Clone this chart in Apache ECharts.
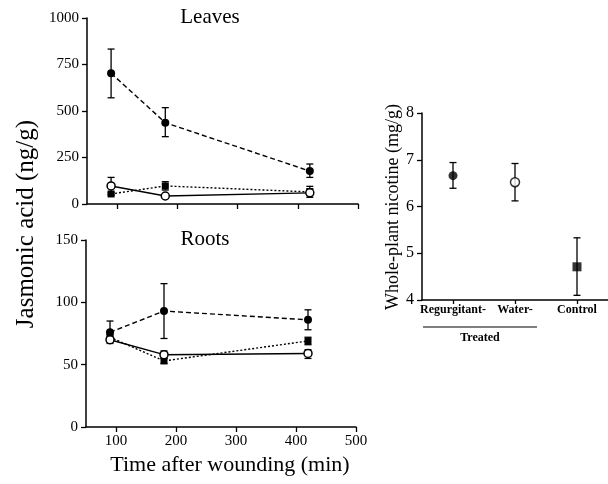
<!DOCTYPE html>
<html><head><meta charset="utf-8">
<script src="https://cdn.jsdelivr.net/npm/echarts@6/dist/echarts.min.js"></script>
<style>html,body{margin:0;padding:0;background:#fff}#c{width:608px;height:484px}</style>
</head><body><div id="c"></div>
<script>
const times = [90, 180, 420];
const timeTicks = [100, 200, 300, 400, 500];

const leavesRegurgitant = [703, 437, 177];
const leavesRegurgitantLow = [571, 362, 143];
const leavesRegurgitantHigh = [833, 518, 215];
const leavesWater = [97, 43, 60];
const leavesWaterLow = [52, 38, 36];
const leavesWaterHigh = [143, 48, 95];
const leavesControl = [54, 97, 65];
const leavesControlLow = [46, 75, 50];
const leavesControlHigh = [62, 120, 82];

const rootsRegurgitant = [76, 93, 86];
const rootsRegurgitantLow = [67, 71, 78];
const rootsRegurgitantHigh = [85, 115, 94];
const rootsWater = [70, 58, 59];
const rootsWaterLow = [68, 55, 55];
const rootsWaterHigh = [72, 61, 62];
const rootsControl = [72, 53, 69];
const rootsControlLow = [70, 51, 66];
const rootsControlHigh = [74, 55, 72];

const nicotineCategories = ['Regurgitant-', 'Water-', 'Control'];
const nicotine = [6.66, 6.52, 4.71];
const nicotineLow = [6.39, 6.12, 4.10];
const nicotineHigh = [6.94, 6.92, 5.33];

const FONT = 'Liberation Serif';

function pairs(xs, ys) { return xs.map((x, i) => [x, ys[i]]); }
function errData(xs, lo, hi) { return xs.map((x, i) => [x, lo[i], hi[i]]); }

function errItem(params, api) {
  const x = api.value(0), lo = api.value(1), hi = api.value(2);
  const p1 = api.coord([x, hi]), p2 = api.coord([x, lo]);
  const w = 3.5;
  const st = { stroke: '#000', lineWidth: 1.3 };
  return { type: 'group', children: [
    { type: 'line', shape: { x1: p1[0], y1: p1[1], x2: p2[0], y2: p2[1] }, style: st },
    { type: 'line', shape: { x1: p1[0] - w, y1: p1[1], x2: p1[0] + w, y2: p1[1] }, style: st },
    { type: 'line', shape: { x1: p2[0] - w, y1: p2[1], x2: p2[0] + w, y2: p2[1] }, style: st }
  ]};
}

const lineStyles = {
  reg: { color: '#000', width: 1.4, type: [5, 3] },
  water: { color: '#000', width: 1.4, type: 'solid' },
  ctrl: { color: '#000', width: 1.4, type: [2, 2] }
};
const symStyles = {
  reg: { symbol: 'circle', symbolSize: 8, itemStyle: { color: '#000' } },
  water: { symbol: 'circle', symbolSize: 8, itemStyle: { color: '#fff', borderColor: '#000', borderWidth: 1.5 } },
  ctrl: { symbol: 'rect', symbolSize: 7, itemStyle: { color: '#000' } }
};

function lineSeries(idx, kind, ys, z) {
  return Object.assign({
    type: 'line', xAxisIndex: idx, yAxisIndex: idx, data: pairs(times, ys),
    lineStyle: lineStyles[kind], z: z, animation: false, silent: true
  }, symStyles[kind]);
}
function errSeries(idx, xs, lo, hi) {
  return { type: 'custom', xAxisIndex: idx, yAxisIndex: idx, renderItem: errItem,
    data: errData(xs, lo, hi), z: 1, animation: false, silent: true };
}

const axisLine = { show: true, lineStyle: { color: '#000', width: 1.5 } };
const labelStyle = { color: '#000', fontFamily: FONT, fontSize: 15 };
const plain = v => String(v);

function timeAxis(idx, showLabels) {
  return {
    type: 'value', gridIndex: idx, min: 50, max: 500,
    axisLine: axisLine,
    axisTick: { show: true, length: 5, lineStyle: { color: '#000', width: 1.3 }, customValues: timeTicks },
    axisLabel: Object.assign({ show: showLabels, margin: 7, customValues: timeTicks, formatter: plain }, labelStyle),
    splitLine: { show: false }
  };
}
function valAxis(idx, min, max, interval) {
  return {
    type: 'value', gridIndex: idx, min: min, max: max, interval: interval,
    axisLine: axisLine,
    axisTick: { show: true, length: 5, lineStyle: { color: '#000', width: 1.3 } },
    axisLabel: Object.assign({ margin: 8, formatter: plain }, labelStyle),
    splitLine: { show: false }
  };
}

const chart = echarts.init(document.getElementById('c'), null, { renderer: 'canvas' });
chart.setOption({
  backgroundColor: '#fff',
  animation: false,
  grid: [
    { left: 87, top: 18, width: 271, height: 186 },
    { left: 86, top: 240, width: 270, height: 187 },
    { left: 422, top: 113, width: 186, height: 187 }
  ],
  xAxis: [
    timeAxis(0, false),
    timeAxis(1, true),
    {
      type: 'category', gridIndex: 2, data: nicotineCategories, boundaryGap: true,
      axisLine: axisLine,
      axisTick: { show: true, alignWithLabel: true, length: 4, lineStyle: { color: '#000', width: 1.3 } },
      axisLabel: { color: '#000', fontFamily: FONT, fontSize: 12, fontWeight: 'bold', margin: 4, interval: 0, hideOverlap: false },
      splitLine: { show: false }
    }
  ],
  yAxis: [
    valAxis(0, 0, 1000, 250),
    valAxis(1, 0, 150, 50),
    Object.assign(valAxis(2, 4, 8, 1), { axisLabel: { color: '#000', fontFamily: FONT, fontSize: 16, margin: 8, formatter: plain } })
  ],
  series: [
    errSeries(0, times, leavesRegurgitantLow, leavesRegurgitantHigh),
    errSeries(0, times, leavesWaterLow, leavesWaterHigh),
    errSeries(0, times, leavesControlLow, leavesControlHigh),
    lineSeries(0, 'ctrl', leavesControl, 3),
    lineSeries(0, 'water', leavesWater, 4),
    lineSeries(0, 'reg', leavesRegurgitant, 5),
    errSeries(1, times, rootsRegurgitantLow, rootsRegurgitantHigh),
    errSeries(1, times, rootsWaterLow, rootsWaterHigh),
    errSeries(1, times, rootsControlLow, rootsControlHigh),
    lineSeries(1, 'ctrl', rootsControl, 3),
    lineSeries(1, 'water', rootsWater, 4),
    lineSeries(1, 'reg', rootsRegurgitant, 5),
    errSeries(2, [0, 1, 2], nicotineLow, nicotineHigh),
    {
      type: 'scatter', xAxisIndex: 2, yAxisIndex: 2, z: 5, animation: false, silent: true,
      data: [
        { value: [0, nicotine[0]], symbol: 'circle', symbolSize: 9, itemStyle: { color: '#000' } },
        { value: [1, nicotine[1]], symbol: 'circle', symbolSize: 9, itemStyle: { color: '#fff', borderColor: '#000', borderWidth: 1.5 } },
        { value: [2, nicotine[2]], symbol: 'rect', symbolSize: 9, itemStyle: { color: '#000' } }
      ]
    }
  ],
  graphic: [
    { type: 'text', x: 210, y: 17, style: { text: 'Leaves', fill: '#000', font: '21px "Liberation Serif"', align: 'center', verticalAlign: 'middle' } },
    { type: 'text', x: 205, y: 239, style: { text: 'Roots', fill: '#000', font: '21px "Liberation Serif"', align: 'center', verticalAlign: 'middle' } },
    { type: 'text', x: 26, y: 224, rotation: Math.PI / 2, style: { text: 'Jasmonic acid (ng/g)', fill: '#000', font: '25px "Liberation Serif"', align: 'center', verticalAlign: 'middle' } },
    { type: 'text', x: 230, y: 465, style: { text: 'Time after wounding (min)', fill: '#000', font: '22px "Liberation Serif"', align: 'center', verticalAlign: 'middle' } },
    { type: 'text', x: 393, y: 207, rotation: Math.PI / 2, style: { text: 'Whole-plant nicotine (mg/g)', fill: '#000', font: '18px "Liberation Serif"', align: 'center', verticalAlign: 'middle' } },
    { type: 'line', shape: { x1: 423, y1: 327, x2: 537, y2: 327 }, style: { stroke: '#000', lineWidth: 1.2 } },
    { type: 'text', x: 480, y: 338, style: { text: 'Treated', fill: '#000', font: 'bold 12px "Liberation Serif"', align: 'center', verticalAlign: 'middle' } }
  ]
});
</script>
</body></html>
